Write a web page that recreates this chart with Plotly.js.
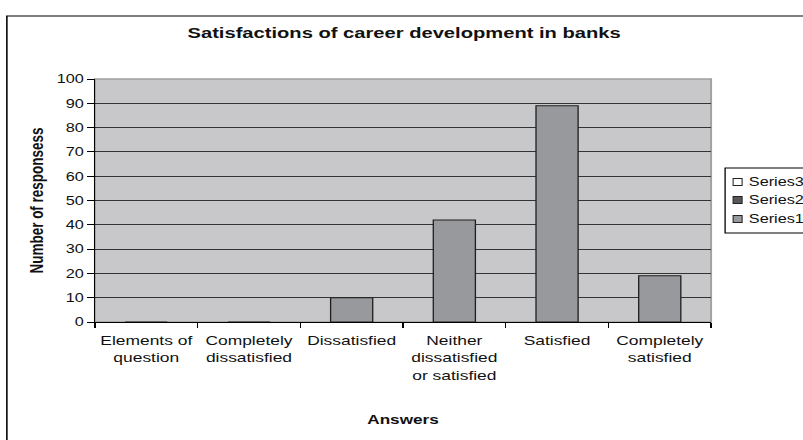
<!DOCTYPE html>
<html>
<head>
<meta charset="utf-8">
<script src="https://cdn.plot.ly/plotly-3.0.1.min.js"></script>
<style>
html,body{margin:0;padding:0;background:#fff;overflow:hidden;}
#wrap{width:803px;height:440px;overflow:hidden;position:relative;}
#chart{width:618px;height:440px;transform:scaleX(1.3);transform-origin:0 0;}
</style>
</head>
<body>
<div id="wrap"><div id="chart"></div></div>
<script>
// Data
var categories = ["Elements of<br>question", "Completely<br>dissatisfied", "Dissatisfied", "Neither<br>dissatisfied<br>or satisfied", "Satisfied", "Completely<br>satisfied"];
var series1 = [0, 0, 10, 42, 89, 19];
var series2 = [0, 0, 0, 0, 0, 0];
var series3 = [0, 0, 0, 0, 0, 0];
var seriesNames = ["Series3", "Series2", "Series1"];
var seriesColors = ["#ffffff", "#58585a", "#98999c"];
var yTicks = [0, 10, 20, 30, 40, 50, 60, 70, 80, 90, 100];

// The original Excel chart is horizontally stretched; draw at 618px wide and stretch by 1.3
var S = 1.3;
var font = "Liberation Sans, Arial, sans-serif";
var W = 618, H = 440;
var L = 95 / S, R = 711 / S, T = 79, B = 322;
function px(x){ return (x / S - L) / (R - L); }
function py(y){ return (B - y) / (B - T); }

var traces = [
  {type:"bar", name:"Series1", x:categories, y:series1, width:0.41, showlegend:false,
   marker:{color:"#98999c", line:{color:"#1e1e1e", width:1}}},
  {type:"bar", name:"Series2", x:categories, y:series2, width:0.41, showlegend:false,
   marker:{color:"#58585a", line:{color:"#1e1e1e", width:0}}},
  {type:"bar", name:"Series3", x:categories, y:series3, width:0.41, showlegend:false,
   marker:{color:"#ffffff", line:{color:"#1e1e1e", width:0}}}
];

var shapes = [
  {type: "rect", xref: "paper", yref: "paper", x0: 0, x1: 1, y0: 0, y1: 1,
   line: {color: "#a0a0a0", width: 1.5}, layer: "below"},
  {type: "rect", xref: "paper", yref: "paper", x0: px(7), x1: px(830), y0: py(460), y1: py(16),
   line: {color: "#000", width: 1.2}, fillcolor: "rgba(0,0,0,0)"},
  // legend box
  {type: "rect", xref: "paper", yref: "paper", x0: px(725), x1: px(830), y0: py(233), y1: py(168),
   line: {color: "#000", width: 1}, fillcolor: "#fff"}
];
var annotations = [];
var legendY = [182, 200, 219];
for (var i = 0; i < seriesNames.length; i++) {
  shapes.push({type: "rect", xref: "paper", yref: "paper",
    x0: px(733), x1: px(742), y0: py(legendY[i] + 3.5), y1: py(legendY[i] - 3.5),
    line: {color: "#222", width: 0.8}, fillcolor: seriesColors[i]});
  annotations.push({xref: "paper", yref: "paper", x: px(746), y: py(legendY[i]),
    xanchor: "left", yanchor: "middle", showarrow: false, text: seriesNames[i],
    font: {family: font, size: 12.5, color: "#111"}});
}

var layout = {
  width: W, height: H,
  margin: {l: L, r: W - R, t: T, b: H - B, pad: 0, autoexpand: false},
  paper_bgcolor: "rgba(0,0,0,0)",
  plot_bgcolor: "#c8c8ca",
  barmode: "overlay",
  showlegend: false,
  font: {family: font, size: 12, color: "#111"},
  title: {text: "<b>Satisfactions of career development in banks</b>", x: 0.503, xanchor: "center",
          y: 1 - 33/440, yanchor: "middle", font: {family: font, size: 15.5, color: "#111"}},
  xaxis: {
    type: "category", tickson: "boundaries", ticks: "outside", ticklen: 5, tickcolor: "#000",
    tickangle: 0, ticklabelstandoff: 6,
    showline: true, linecolor: "#000", linewidth: 1, showgrid: false, zeroline: false,
    tickfont: {family: font, size: 13.4, color: "#111"},
    title: {text: "<b>Answers</b>", font: {family: font, size: 13.2, color: "#111"}, standoff: 32},
    automargin: false, fixedrange: true
  },
  yaxis: {
    range: [0, 100], tickvals: yTicks, ticktext: yTicks.map(String),
    ticks: "outside", ticklen: 5, tickcolor: "#000",
    showline: true, linecolor: "#000", linewidth: 1,
    showgrid: true, gridcolor: "#333333", gridwidth: 1, zeroline: false,
    tickfont: {family: font, size: 12.5, color: "#111"},
    title: {text: "<b>Number of responsess</b>", font: {family: font, size: 13.5, color: "#111"}, standoff: 6},
    automargin: false, fixedrange: true
  },
  shapes: shapes,
  annotations: annotations
};

Plotly.newPlot("chart", traces, layout, {displayModeBar: false, staticPlot: true});
</script>
</body>
</html>
